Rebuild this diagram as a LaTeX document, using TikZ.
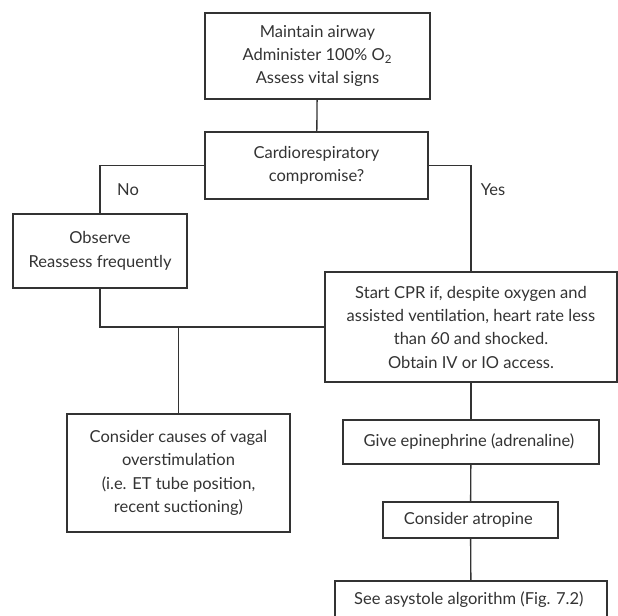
\documentclass[tikz,border=0pt]{standalone}
\usepackage{fontspec}
\setmainfont{Lato}
\definecolor{ink}{HTML}{333333}
\tikzset{
  box/.style={
    draw=ink,
    line width=0.8pt,
    align=center,
    inner sep=0pt,
    text=ink,
    font=\fontsize{9.9}{14}\selectfont
  },
  label/.style={text=ink, font=\fontsize{9.9}{14}\selectfont},
  link/.style={line width=0.8pt, draw=ink}
}
\begin{document}
\begin{tikzpicture}[x=0.6pt, y=-0.6pt]

\clip (0,0) rectangle (618,616);

\node[box, minimum width=135pt, minimum height=51.6pt] (airway) at (317.5,56) {
  Maintain airway\\
  Administer 100\% O\textsubscript{2}\\
  Assess vital signs
};

\node[box, minimum width=133.8pt, minimum height=40.2pt] (compromise) at (316.5,165.5) {
  Cardiorespiratory\\
  compromise?
};

\node[box, minimum width=104.4pt, minimum height=44.4pt] (observe) at (100,251) {
  Observe\\
  Reassess frequently
};

\node[box, minimum width=175.2pt, minimum height=66pt] (cpr) at (471,327) {
  Start CPR if, despite oxygen and\\
  assisted ventilation, heart rate less\\
  than 60 and shocked.\\
  Obtain IV or IO access.
};

\node[box, minimum width=133.8pt, minimum height=70.8pt] (vagal) at (178.5,473) {
  Consider causes of vagal\\
  overstimulation\\
  (i.e. ET tube position,\\
  recent suctioning)
};

\node[box, minimum width=153.6pt, minimum height=26.4pt] (epinephrine) at (471,442) {
  Give epinephrine (adrenaline)
};

\node[box, minimum width=105pt, minimum height=21.6pt] (atropine) at (470.5,520) {
  Consider atropine
};

\node[box, minimum width=163.2pt, minimum height=22.8pt] (asystole) at (471,600) {
  See asystole algorithm (Fig. 7.2)
};

\node[label] (no) at (128,190) {No};
\node[label] (yes) at (493,190) {Yes};

\draw[link] (airway) -- (compromise);
\draw[link] (compromise.west) -| (observe.north);
\draw[link] (compromise.east) -| (cpr.north);
\draw[link] (observe.south) |- (cpr.west);
\draw[link] (vagal.north) -- (vagal.north |- cpr.west);
\draw[link] (cpr) -- (epinephrine);
\draw[link] (epinephrine) -- (atropine);
\draw[link] (atropine) -- (asystole);

\end{tikzpicture}
\end{document}
